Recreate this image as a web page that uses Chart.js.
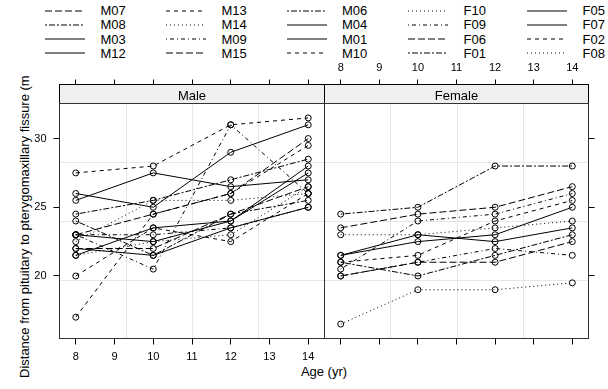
<!DOCTYPE html>
<html>
<head>
<meta charset="utf-8">
<script src="https://cdn.jsdelivr.net/npm/chart.js@4.4.1/dist/chart.umd.min.js"></script>
<style>
  html, body { margin: 0; padding: 0; background: #fff; }
  body {
    width: 608px; height: 389px; position: relative; overflow: hidden;
    font-family: "Liberation Sans", Arial, Helvetica, sans-serif; color: #000;
  }
  canvas { position: absolute; left: 0; top: 0; }
  .key-text { position: absolute; font-size: 13px; line-height: 15px; white-space: nowrap; }
  .key-line { position: absolute; overflow: visible; }
  #ylab {
    position: absolute; left: 16.6px; top: 378px; transform-origin: left top;
    transform: rotate(-90deg); font-size: 13px; line-height: 15px; white-space: nowrap;
  }
  #xlab {
    position: absolute; left: 224px; width: 200px; top: 364px; text-align: center;
    font-size: 13px; line-height: 15px;
  }
</style>
</head>
<body>
<div id="key"></div>
<div id="ylab">Distance from pituitary to pterygomaxillary fissure (m</div>
<div id="xlab">Age (yr)</div>
<canvas id="male" width="608" height="389"></canvas>
<canvas id="female" width="608" height="389"></canvas>
<script>
const ages = [8, 10, 12, 14];
const ageTicks = [8, 9, 10, 11, 12, 13, 14];
const distTicks = [20, 25, 30];

// distance (mm) at ages 8, 10, 12, 14
const M01 = [26, 25, 29, 31];
const M02 = [21.5, 22.5, 23, 26.5];
const M03 = [23, 22.5, 24, 27.5];
const M04 = [25.5, 27.5, 26.5, 27];
const M05 = [20, 23.5, 22.5, 26];
const M06 = [24.5, 25.5, 27, 28.5];
const M07 = [22, 22, 24.5, 26.5];
const M08 = [24, 21.5, 24.5, 25.5];
const M09 = [23, 20.5, 31, 26];
const M10 = [27.5, 28, 31, 31.5];
const M11 = [23, 23, 23.5, 25];
const M12 = [21.5, 23.5, 24, 28];
const M13 = [17, 24.5, 26, 29.5];
const M14 = [22.5, 25.5, 25.5, 26];
const M15 = [23, 24.5, 26, 30];
const M16 = [22, 21.5, 23.5, 25];
const F01 = [21, 20, 21.5, 23];
const F02 = [21, 21.5, 24, 25.5];
const F03 = [20.5, 24, 24.5, 26];
const F04 = [23.5, 24.5, 25, 26.5];
const F05 = [21.5, 23, 22.5, 23.5];
const F06 = [20, 21, 21, 22.5];
const F07 = [21.5, 22.5, 23, 25];
const F08 = [23, 23, 23.5, 24];
const F09 = [20, 21, 22, 21.5];
const F10 = [16.5, 19, 19, 19.5];
const F11 = [24.5, 25, 28, 28];

// subject factor levels, ordered by maximum distance
const maleSubjects = ['M16', 'M05', 'M02', 'M11', 'M07', 'M08', 'M03', 'M12',
                      'M13', 'M14', 'M09', 'M15', 'M06', 'M04', 'M01', 'M10'];
const femaleSubjects = ['F10', 'F09', 'F06', 'F01', 'F05', 'F07', 'F02', 'F08',
                        'F03', 'F04', 'F11'];
const keySubjects = ['M07', 'M08', 'M03', 'M12', 'M13', 'M14', 'M09', 'M15', 'M06', 'M04',
                     'M01', 'M10', 'F10', 'F09', 'F06', 'F01', 'F05', 'F07', 'F02', 'F08'];

const distance = { M01, M02, M03, M04, M05, M06, M07, M08, M09, M10, M11, M12, M13, M14, M15, M16,
                   F01, F02, F03, F04, F05, F06, F07, F08, F09, F10, F11 };
const levels = maleSubjects.concat(femaleSubjects);

// lattice superpose.line lty 1:7
const ltyCycle = ['solid', 'dashed', 'dotted', 'dotdash', 'longdash', 'twodash', 'solid'];
const dashes = {
  solid: [], dashed: [4, 4], dotted: [1, 3], dotdash: [1, 3, 4, 3],
  longdash: [7, 3], twodash: [2, 2, 6, 2]
};
const dashOf = id => dashes[ltyCycle[levels.indexOf(id) % 7]];

// axis limits padded by 7% like lattice
const allDist = Object.values(distance).flat();
const dMin = Math.min(...allDist), dMax = Math.max(...allDist);
const aMin = Math.min(...ages), aMax = Math.max(...ages);
const xLim = [aMin - 0.07 * (aMax - aMin), aMax + 0.07 * (aMax - aMin)];
const yLim = [dMin - 0.07 * (dMax - dMin), dMax + 0.07 * (dMax - dMin)];

const FONT = { family: '"Liberation Sans", Arial, sans-serif', size: 11 };
const STRIP_H = 19;

// --- key above the panels ---
const keyCols = [45, 166, 286.5, 408, 527];
const keyRows = [10.7, 24.8, 38.9, 53];
const keyEl = document.getElementById('key');
keySubjects.forEach((id, i) => {
  const col = Math.floor(i / 4), row = i % 4;
  const x = keyCols[col], y = keyRows[row];
  const svg = document.createElementNS('http://www.w3.org/2000/svg', 'svg');
  svg.setAttribute('class', 'key-line');
  svg.setAttribute('width', 40);
  svg.setAttribute('height', 4);
  svg.style.left = x + 'px';
  svg.style.top = (y - 2) + 'px';
  const ln = document.createElementNS('http://www.w3.org/2000/svg', 'line');
  ln.setAttribute('x1', 0); ln.setAttribute('x2', 40);
  ln.setAttribute('y1', 2); ln.setAttribute('y2', 2);
  ln.setAttribute('stroke', '#000');
  ln.setAttribute('stroke-width', 1);
  const d = dashOf(id);
  if (d.length) ln.setAttribute('stroke-dasharray', d.join(' '));
  svg.appendChild(ln);
  keyEl.appendChild(svg);
  const t = document.createElement('div');
  t.className = 'key-text';
  t.textContent = id;
  t.style.left = (x + 55.5) + 'px';
  t.style.top = (y - 7.4) + 'px';
  keyEl.appendChild(t);
});

// grid, strip and panel border
const panelDecor = {
  id: 'panelDecor',
  beforeDatasetsDraw(chart) {
    const { ctx, chartArea: a, scales: { x, y } } = chart;
    ctx.save();
    ctx.strokeStyle = '#e6e6e6';
    ctx.lineWidth = 1;
    for (let k = 1; k <= 3; k++) {
      const gx = Math.round(x.getPixelForValue(xLim[0] + k * (xLim[1] - xLim[0]) / 4)) + 0.5;
      const gy = Math.round(y.getPixelForValue(yLim[0] + k * (yLim[1] - yLim[0]) / 4)) + 0.5;
      ctx.beginPath();
      ctx.moveTo(gx, a.top); ctx.lineTo(gx, a.bottom);
      ctx.moveTo(a.left, gy); ctx.lineTo(a.right, gy);
      ctx.stroke();
    }
    ctx.restore();
  },
  afterDraw(chart, args, opts) {
    const { ctx, chartArea: a } = chart;
    ctx.save();
    ctx.fillStyle = '#efefef';
    ctx.fillRect(a.left, a.top - STRIP_H, a.right - a.left, STRIP_H);
    ctx.strokeStyle = '#000';
    ctx.lineWidth = 1;
    ctx.strokeRect(a.left, a.top - STRIP_H, a.right - a.left, STRIP_H);
    ctx.strokeStyle = '#333';
    ctx.strokeRect(a.left, a.top, a.right - a.left, a.bottom - a.top);
    ctx.fillStyle = '#000';
    ctx.font = '13px "Liberation Sans", Arial, sans-serif';
    ctx.textAlign = 'center';
    ctx.textBaseline = 'alphabetic';
    ctx.fillText(opts.label, (a.left + a.right) / 2, a.top - 4);
    ctx.restore();
  }
};

function subjectDataset(id) {
  return {
    label: id,
    data: ages.map((a, i) => ({ x: a, y: distance[id][i] })),
    borderColor: '#000',
    borderWidth: 1,
    borderDash: dashOf(id),
    tension: 0,
    fill: false,
    pointRadius: 3,
    pointHoverRadius: 3,
    pointBorderWidth: 1,
    pointBorderColor: '#000',
    pointBackgroundColor: 'rgba(0,0,0,0)'
  };
}

function tickAxis(position, ticksList, lim, showLabels, tickLen, padding, size) {
  return {
    type: 'linear',
    position: position,
    min: lim[0],
    max: lim[1],
    afterBuildTicks: s => { s.ticks = ticksList.map(v => ({ value: v })); },
    afterFit: s => {
      if (position === 'left' || position === 'right') s.width = size;
      else s.height = size;
    },
    grid: {
      display: true, drawOnChartArea: false, drawTicks: true,
      tickLength: tickLen, color: '#000', lineWidth: 1
    },
    border: { display: false },
    ticks: {
      display: showLabels, color: '#000', font: FONT, padding: padding,
      autoSkip: false, maxRotation: 0, minRotation: 0
    }
  };
}

function panelChart(canvasId, subjects, label, isMale) {
  const scales = {
    x: tickAxis('bottom', ageTicks, xLim, isMale, 6, 6, 50.5),
    xTop: tickAxis('top', ageTicks, xLim, !isMale, 24, 5, 103.5),
    y: tickAxis(isMale ? 'left' : 'right', distTicks, yLim, isMale, 6, 7, isMale ? 59.5 : 19.5)
  };
  return new Chart(document.getElementById(canvasId), {
    type: 'line',
    data: { datasets: subjects.map(subjectDataset) },
    options: {
      responsive: false,
      animation: false,
      devicePixelRatio: 1,
      layout: {
        padding: isMale ? { left: 0, right: 283.5, top: 0, bottom: 0 }
                        : { left: 324.5, right: 0, top: 0, bottom: 0 }
      },
      scales: scales,
      plugins: {
        legend: { display: false },
        tooltip: { enabled: false },
        panelDecor: { label: label }
      }
    },
    plugins: [panelDecor]
  });
}

panelChart('male', maleSubjects, 'Male', true);
panelChart('female', femaleSubjects, 'Female', false);
</script>
</body>
</html>
